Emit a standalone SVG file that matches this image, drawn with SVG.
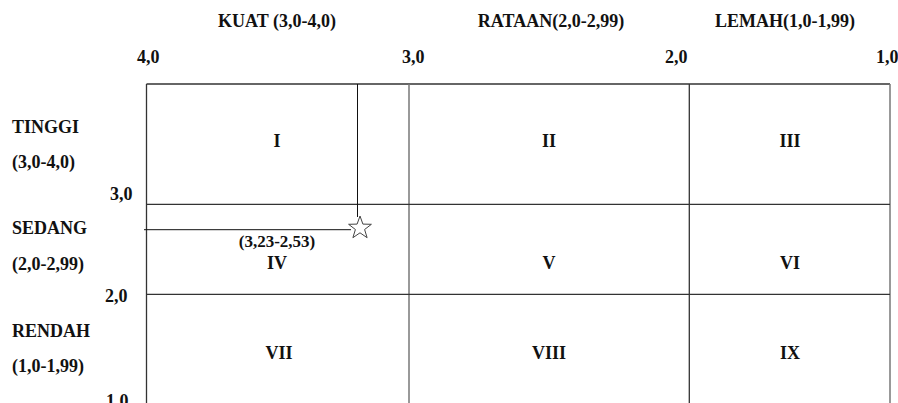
<svg xmlns="http://www.w3.org/2000/svg" width="898" height="403" viewBox="0 0 898 403">
<style>
text{font-family:"Liberation Serif","Times New Roman",serif;font-weight:bold;font-size:18px;fill:#111}
.c{text-anchor:middle}
.g{stroke:#333;stroke-width:1.3;fill:none}
.g2{stroke:#777;stroke-width:1.5;fill:none}
.p{stroke:#111;stroke-width:1;fill:none}
</style>
<rect width="898" height="403" fill="#fff"/>
<g id="headers">
<text class="c" x="277" y="27">KUAT (3,0-4,0)</text>
<text class="c" x="551" y="27">RATAAN(2,0-2,99)</text>
<text class="c" x="785" y="27">LEMAH(1,0-1,99)</text>
<text x="137" y="63">4,0</text>
<text x="402" y="63">3,0</text>
<text x="665" y="63">2,0</text>
<text x="876" y="63">1,0</text>
</g>
<g id="rowlabels">
<text x="12" y="133">TINGGI</text>
<text x="12" y="168">(3,0-4,0)</text>
<text x="110" y="200">3,0</text>
<text x="12" y="234">SEDANG</text>
<text x="12" y="270">(2,0-2,99)</text>
<text x="105" y="302">2,0</text>
<text x="12" y="337">RENDAH</text>
<text x="12" y="372">(1,0-1,99)</text>
<text x="106" y="407">1,0</text>
</g>
<g id="grid">
<line class="g" x1="146.5" y1="84" x2="890" y2="84"/>
<line class="g" x1="146.5" y1="84" x2="146.5" y2="403"/>
<line class="g2" x1="409" y1="84" x2="409" y2="403"/>
<line class="g" x1="689.3" y1="84" x2="689.3" y2="403"/>
<line class="g2" x1="890" y1="84" x2="890" y2="403"/>
<line class="g" x1="146.5" y1="204.3" x2="890" y2="204.3"/>
<line class="g" x1="146.5" y1="294.3" x2="890" y2="294.3"/>
</g>
<g id="cells">
<text class="c" x="277" y="147">I</text>
<text class="c" x="549" y="147">II</text>
<text class="c" x="790" y="147">III</text>
<text class="c" x="277" y="247" style="font-size:17px">(3,23-2,53)</text>
<text class="c" x="277" y="269">IV</text>
<text class="c" x="549" y="269">V</text>
<text class="c" x="790" y="269">VI</text>
<text class="c" x="279" y="359">VII</text>
<text class="c" x="549" y="359">VIII</text>
<text class="c" x="790" y="359">IX</text>
</g>
<g id="connectors">
<line class="p" x1="357.5" y1="84" x2="357.5" y2="217"/>
<line class="p" x1="144" y1="229.7" x2="351" y2="229.7"/>
</g>
<g id="star">
<polygon points="360,216 362.9,224.1 371.4,224.3 364.6,229.5 367.1,237.7 360,232.8 352.9,237.7 355.4,229.5 348.6,224.3 357.1,224.1" fill="#fff" stroke="#444" stroke-width="1"/>
</g>
</svg>
